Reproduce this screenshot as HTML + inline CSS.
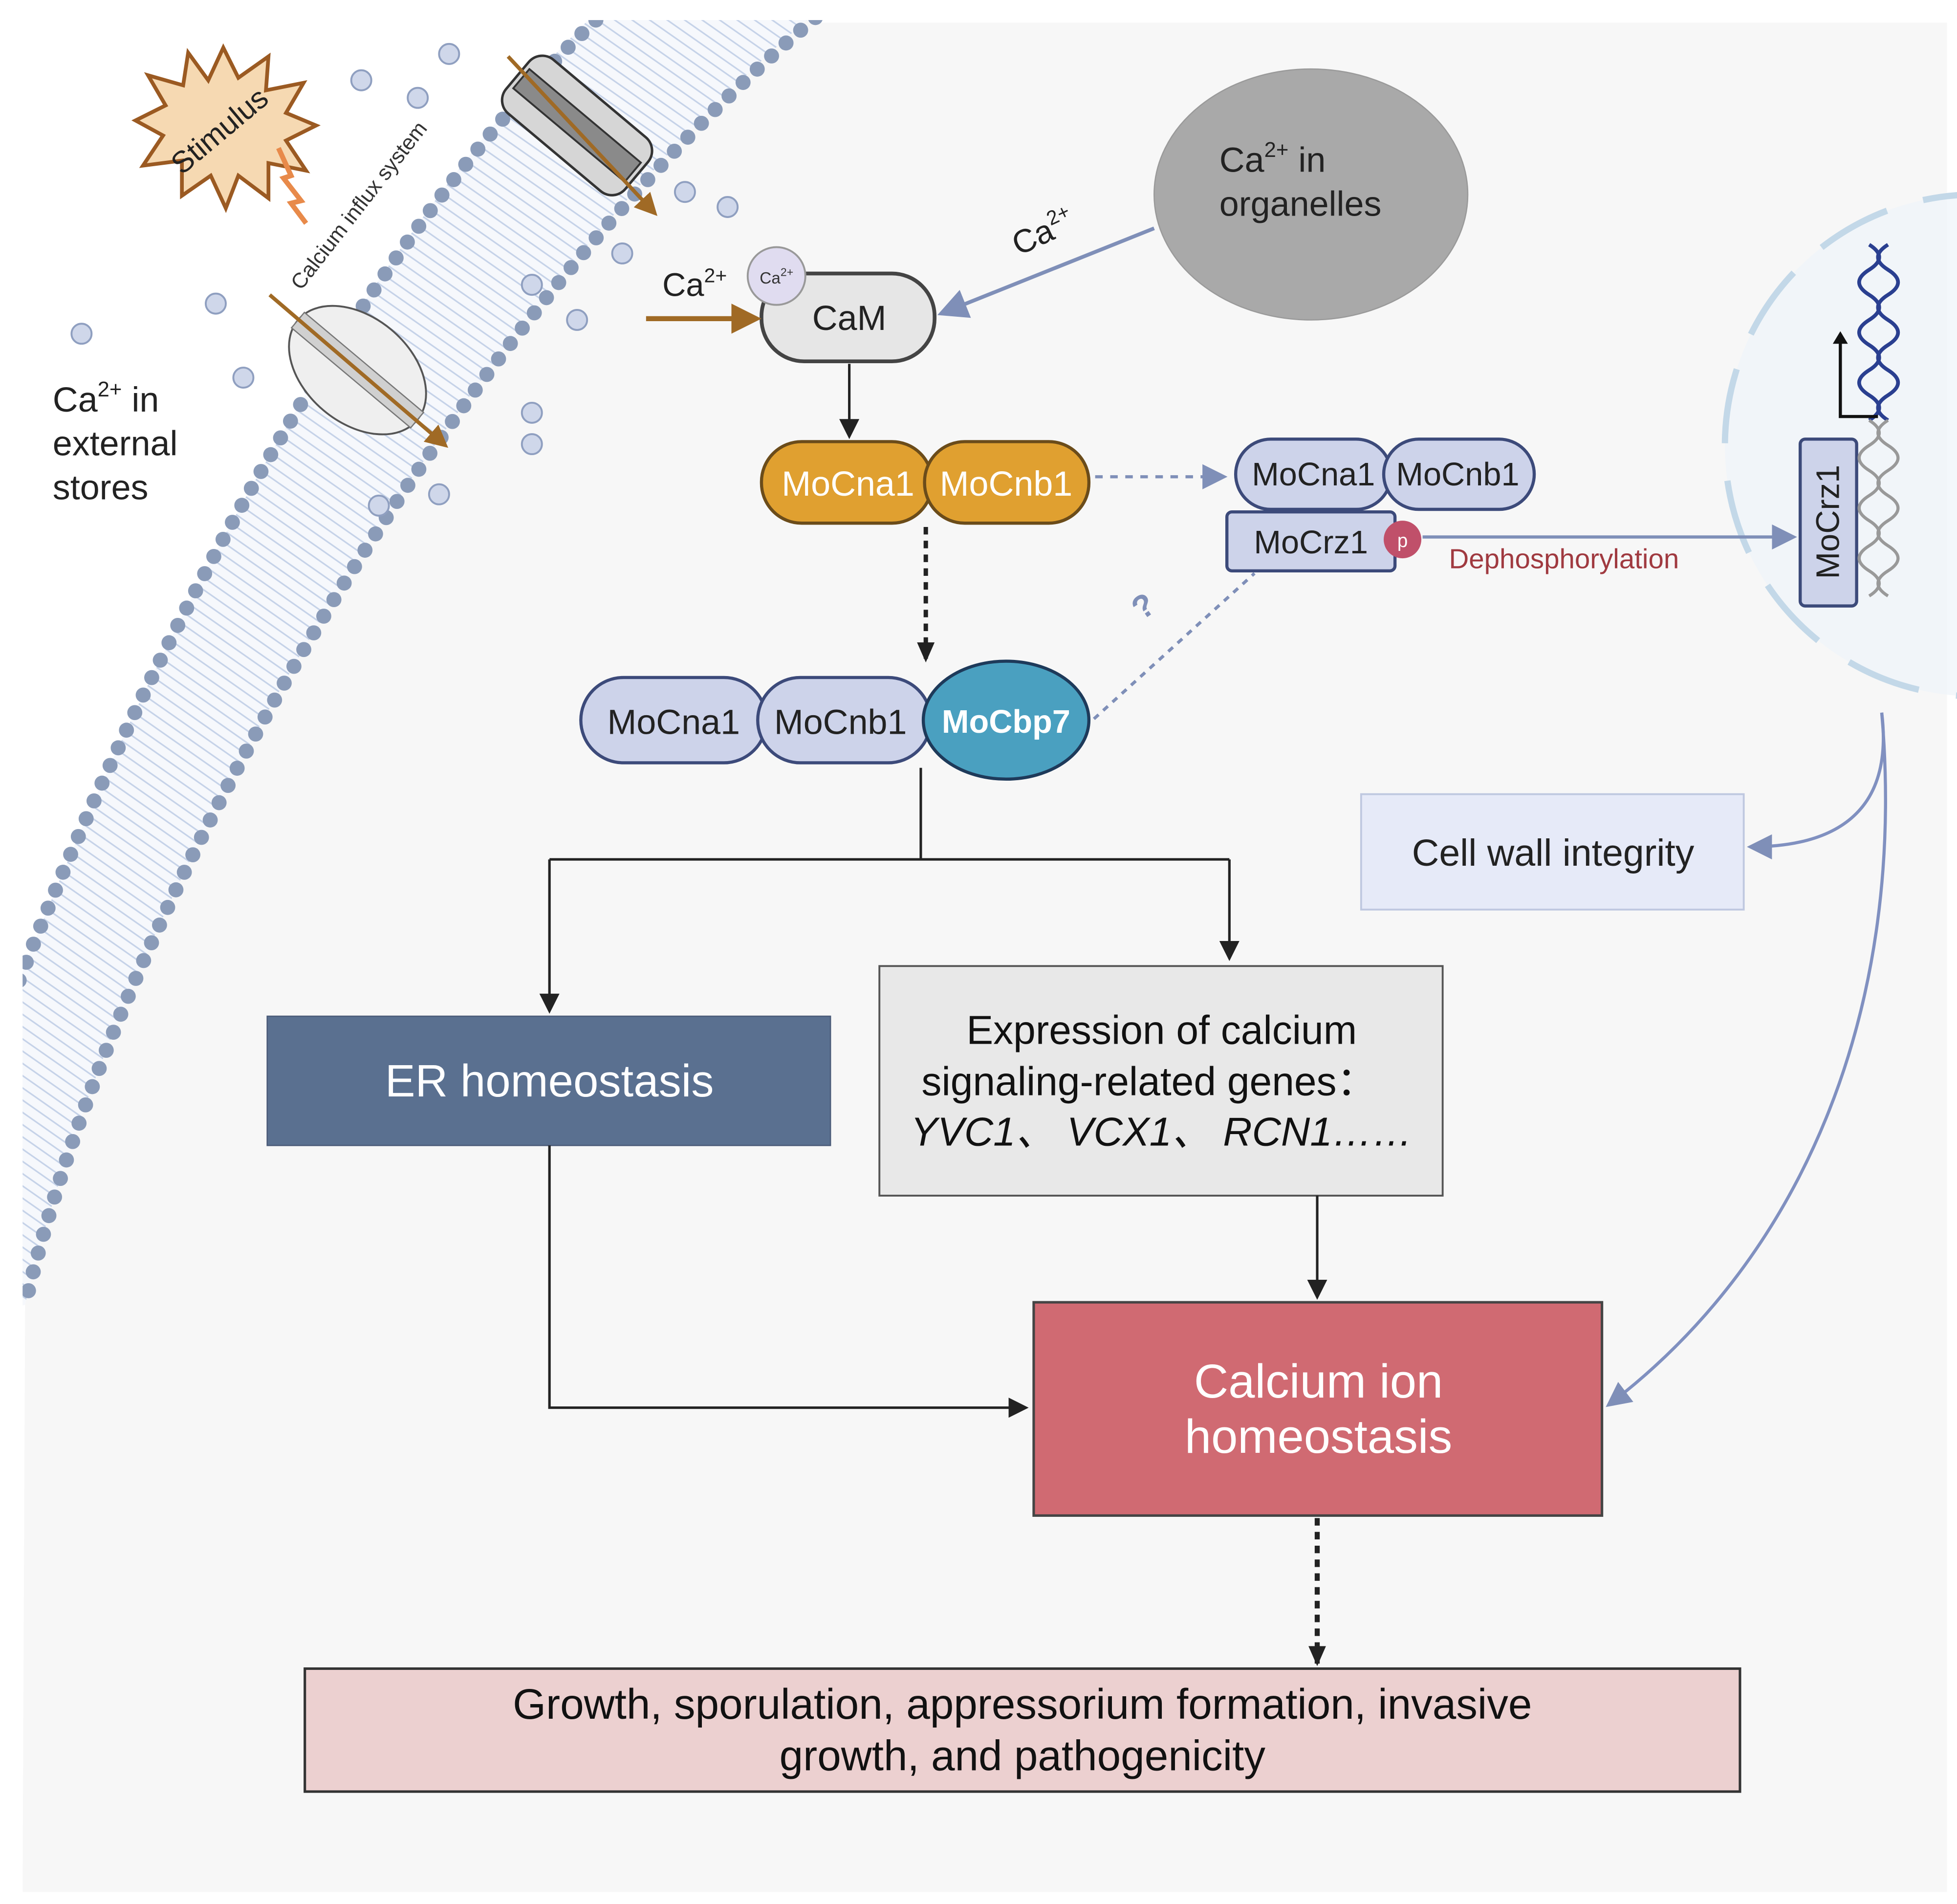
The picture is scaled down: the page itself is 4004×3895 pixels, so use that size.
<!DOCTYPE html>
<html><head><meta charset="utf-8"><style>
html,body{margin:0;padding:0;background:#fff}
svg{display:block}
text{font-family:"Liberation Sans","Noto Sans CJK SC",sans-serif}
</style></head><body>
<svg width="4004" height="3895" viewBox="0 0 1560 1517.6" preserveAspectRatio="none" xmlns="http://www.w3.org/2000/svg">
<defs>
<marker id="ak" markerWidth="8" markerHeight="8" refX="7" refY="4" orient="auto" markerUnits="strokeWidth"><path d="M0,0 L8,4 L0,8 z" fill="#222"/></marker>
<marker id="akd" markerWidth="16" markerHeight="14" refX="15" refY="7" orient="auto" markerUnits="userSpaceOnUse"><path d="M0,0 L16,7 L0,14 z" fill="#222"/></marker>
<marker id="ab" markerWidth="8" markerHeight="8" refX="7" refY="4" orient="auto" markerUnits="strokeWidth"><path d="M0,0 L8,4 L0,8 z" fill="#7f8fb8"/></marker>
<marker id="ao" markerWidth="6" markerHeight="6" refX="5" refY="3" orient="auto" markerUnits="strokeWidth"><path d="M0,0 L6,3 L0,6 z" fill="#a06a25"/></marker>
<pattern id="lip" width="8" height="8" patternUnits="userSpaceOnUse" patternTransform="rotate(35)"><rect width="8" height="8" fill="#f6f8fc"/><line x1="0" y1="4" x2="8" y2="4" stroke="#c5d2e8" stroke-width="1.2"/></pattern>
</defs>
<rect width="1560" height="1517.6" fill="#fff"/>
<path d="M650 10 C370 250 100 700 20 1040 L18 1508 L1552 1508 L1552 18 L650 18 Z" fill="#f7f7f7"/>
<path d="M475 10 C280 200 60 600 -60 1000 L-60 1060 L20 1040 C100 700 370 250 650 10 Z" fill="url(#lip)"/>
<path d="M475 16 C280 200 60 600 -60 1000" fill="none" stroke="#8a9bb8" stroke-width="12" stroke-linecap="round" stroke-dasharray="0 15.5"/>
<path d="M650 14 C370 250 100 700 20 1040" fill="none" stroke="#8a9bb8" stroke-width="12" stroke-linecap="round" stroke-dasharray="0 15.5"/>
<rect x="0" y="0" width="18" height="1517.6" fill="#fff"/>
<rect x="0" y="0" width="1560" height="16" fill="#fff"/>
<rect x="0" y="1508" width="1560" height="10" fill="#fff"/>
<rect x="1552" y="0" width="8" height="1517.6" fill="#fff"/>
<g transform="translate(460,100) rotate(40)">
<rect x="-62" y="-28" width="124" height="56" rx="14" fill="#d6d6d6" stroke="#333" stroke-width="2"/>
<rect x="-58" y="-10" width="116" height="20" fill="#8a8a8a" stroke="#333" stroke-width="1.5"/>
</g>
<g transform="translate(285,295) rotate(40)">
<ellipse cx="0" cy="0" rx="62" ry="42" fill="#efefef" stroke="#555" stroke-width="1.5"/>
<rect x="-62" y="-8" width="124" height="16" fill="#d0d0d0" stroke="#777"/>
</g>
<line x1="405" y1="45" x2="522" y2="170" stroke="#a06a25" stroke-width="3" marker-end="url(#ao)"/>
<line x1="215" y1="235" x2="355" y2="355" stroke="#a06a25" stroke-width="3" marker-end="url(#ao)"/>
<text x="0" y="0" font-size="17" fill="#333" transform="translate(240,232) rotate(-52)">Calcium influx system</text>
<polygon points="178,38 190,62 214,45 212,72 242,66 228,90 252,100 228,112 244,136 214,130 214,158 190,140 180,166 168,140 145,156 145,128 114,132 130,108 108,96 132,84 118,60 146,68 150,42 166,64" fill="#f6d9b2" stroke="#9b5a22" stroke-width="3"/>
<text x="0" y="0" font-size="24" fill="#222" transform="translate(145,140) rotate(-40)">Stimulus</text>
<polyline points="222,118 232,140 226,142 240,160 232,162 244,178" fill="none" stroke="#e88a4a" stroke-width="4"/>
<g fill="#cfd7ea" stroke="#8f9fc0" stroke-width="1.5">
<circle cx="358" cy="43" r="8"/><circle cx="288" cy="64" r="8"/><circle cx="333" cy="78" r="8"/>
<circle cx="172" cy="242" r="8"/><circle cx="65" cy="266" r="8"/><circle cx="194" cy="301" r="8"/>
<circle cx="546" cy="153" r="8"/><circle cx="580" cy="165" r="8"/><circle cx="496" cy="202" r="8"/>
<circle cx="424" cy="227" r="8"/><circle cx="460" cy="255" r="8"/><circle cx="424" cy="329" r="8"/>
<circle cx="424" cy="354" r="8"/><circle cx="302" cy="403" r="8"/><circle cx="350" cy="394" r="8"/>
</g>
<text font-size="28" fill="#222"><tspan x="42" y="328">Ca<tspan font-size="17" dy="-12">2+</tspan><tspan dy="12"> in</tspan></tspan><tspan x="42" y="363">external</tspan><tspan x="42" y="398">stores</tspan></text>
<circle cx="1575" cy="355" r="200" fill="#eef3f9" fill-opacity="0.7" stroke="#c3d8e8" stroke-width="5" stroke-dasharray="60 30"/>
<ellipse cx="1045" cy="155" rx="125" ry="100" fill="#a9a9a9" stroke="#9a9a9a"/>
<text font-size="28" fill="#222"><tspan x="972" y="137">Ca<tspan font-size="17" dy="-12">2+</tspan><tspan dy="12"> in</tspan></tspan><tspan x="972" y="172">organelles</tspan></text>
<line x1="920" y1="182" x2="750" y2="250" stroke="#7f8fb8" stroke-width="3" marker-end="url(#ab)"/>
<text font-size="26" fill="#222" transform="translate(812,204) rotate(-25)">Ca<tspan font-size="16" dy="-11">2+</tspan></text>
<rect x="607" y="218" width="138" height="70" rx="34" fill="#e6e6e6" stroke="#444" stroke-width="3"/>
<text x="677" y="263" font-size="28" text-anchor="middle" fill="#222">CaM</text>
<circle cx="619" cy="220" r="23" fill="#e0dcf0" stroke="#999" stroke-width="1.5"/>
<text x="619" y="226" font-size="13" text-anchor="middle" fill="#333">Ca<tspan font-size="9" dy="-6">2+</tspan></text>
<text x="528" y="236" font-size="26" fill="#222">Ca<tspan font-size="16" dy="-11">2+</tspan></text>
<line x1="515" y1="254" x2="603" y2="254" stroke="#a06a25" stroke-width="4" marker-end="url(#ao)"/>
<line x1="677" y1="290" x2="677" y2="348" stroke="#222" stroke-width="2" marker-end="url(#ak)"/>
<rect x="607" y="352" width="136" height="65" rx="32" fill="#e0a030" stroke="#6b4c1a" stroke-width="2.5"/>
<rect x="737" y="352" width="131" height="65" rx="32" fill="#e0a030" stroke="#6b4c1a" stroke-width="2.5"/>
<text x="676" y="395" font-size="28" text-anchor="middle" fill="#fff">MoCna1</text>
<text x="802" y="395" font-size="28" text-anchor="middle" fill="#fff">MoCnb1</text>
<line x1="873" y1="380" x2="976" y2="380" stroke="#7f8fb8" stroke-width="2.5" stroke-dasharray="6 6" marker-end="url(#ab)"/>
<line x1="738" y1="420" x2="738" y2="527" stroke="#222" stroke-width="3.5" stroke-dasharray="6 5" marker-end="url(#akd)"/>
<rect x="985" y="350" width="124" height="56" rx="28" fill="#cdd3ea" stroke="#3c4a7a" stroke-width="2.5"/>
<rect x="1103" y="350" width="120" height="56" rx="28" fill="#cdd3ea" stroke="#3c4a7a" stroke-width="2.5"/>
<text x="1047" y="387" font-size="26" text-anchor="middle" fill="#222">MoCna1</text>
<text x="1162" y="387" font-size="26" text-anchor="middle" fill="#222">MoCnb1</text>
<rect x="978" y="408" width="134" height="47" rx="4" fill="#cdd3ea" stroke="#3c4a7a" stroke-width="2.5"/>
<text x="1045" y="441" font-size="26" text-anchor="middle" fill="#222">MoCrz1</text>
<circle cx="1118" cy="430" r="15" fill="#c0506a"/>
<text x="1118" y="436" font-size="15" text-anchor="middle" fill="#fff">p</text>
<line x1="1134" y1="428" x2="1430" y2="428" stroke="#7f8fb8" stroke-width="2.5" marker-end="url(#ab)"/>
<text x="1155" y="453" font-size="22" fill="#a03a40">Dephosphorylation</text>
<rect x="1435" y="350" width="45" height="133" rx="4" fill="#cdd3ea" stroke="#3c4a7a" stroke-width="2.5"/>
<text font-size="26" fill="#222" text-anchor="middle" transform="translate(1466,416) rotate(-90)">MoCrz1</text>
<path d="M1490 195 q16 10 0 20 q-16 10 0 20 q16 10 0 20 q-16 10 0 20 q16 10 0 20 q-16 10 0 20 q16 10 0 20" fill="none" stroke="#2a3f90" stroke-width="3"/>
<path d="M1505 195 q-16 10 0 20 q16 10 0 20 q-16 10 0 20 q16 10 0 20 q-16 10 0 20 q16 10 0 20 q-16 10 0 20" fill="none" stroke="#2a3f90" stroke-width="3"/>
<path d="M1490 335 q16 10 0 20 q-16 10 0 20 q16 10 0 20 q-16 10 0 20 q16 10 0 20 q-16 10 0 20 q16 10 0 20" fill="none" stroke="#999" stroke-width="2.5"/>
<path d="M1505 335 q-16 10 0 20 q16 10 0 20 q-16 10 0 20 q16 10 0 20 q-16 10 0 20 q16 10 0 20 q-16 10 0 20" fill="none" stroke="#999" stroke-width="2.5"/>
<polyline points="1497,332 1467,332 1467,266" fill="none" stroke="#111" stroke-width="2.5"/>
<path d="M1461,274 L1467,264 L1473,274 z" fill="#111"/>
<line x1="872" y1="573" x2="1000" y2="457" stroke="#7f8fb8" stroke-width="2.5" stroke-dasharray="5 5"/>
<text font-size="26" font-weight="bold" fill="#7f8fb8" transform="translate(910,495) rotate(-35)">?</text>
<rect x="463" y="540" width="148" height="68" rx="34" fill="#cdd3ea" stroke="#3c4a7a" stroke-width="2.5"/>
<rect x="604" y="540" width="138" height="68" rx="34" fill="#cdd3ea" stroke="#3c4a7a" stroke-width="2.5"/>
<text x="537" y="585" font-size="28" text-anchor="middle" fill="#222">MoCna1</text>
<text x="670" y="585" font-size="28" text-anchor="middle" fill="#222">MoCnb1</text>
<ellipse cx="802" cy="574" rx="66" ry="47" fill="#4aa0c0" stroke="#1e3a5a" stroke-width="2.5"/>
<text x="802" y="584" font-size="26" font-weight="bold" text-anchor="middle" fill="#fff">MoCbp7</text>
<polyline points="734,612 734,685" fill="none" stroke="#222" stroke-width="2"/>
<polyline points="438,685 980,685" fill="none" stroke="#222" stroke-width="2"/>
<line x1="438" y1="685" x2="438" y2="806" stroke="#222" stroke-width="2" marker-end="url(#ak)"/>
<line x1="980" y1="685" x2="980" y2="764" stroke="#222" stroke-width="2" marker-end="url(#ak)"/>
<rect x="213" y="810" width="449" height="103" fill="#5a7090" stroke="#4a5a78"/>
<text x="438" y="874" font-size="36" text-anchor="middle" fill="#fff">ER homeostasis</text>
<rect x="701" y="770" width="449" height="183" fill="#e8e8e8" stroke="#555" stroke-width="1.5"/>
<text x="926" y="832" font-size="32" text-anchor="middle" fill="#111">Expression of calcium</text>
<text x="916" y="873" font-size="32" text-anchor="middle" fill="#111">signaling-related genes：</text>
<text x="926" y="913" font-size="32" font-style="italic" text-anchor="middle" fill="#111">YVC1、 VCX1、 RCN1……</text>
<line x1="1050" y1="953" x2="1050" y2="1034" stroke="#222" stroke-width="2" marker-end="url(#ak)"/>
<rect x="824" y="1038" width="453" height="170" fill="#d06a72" stroke="#444" stroke-width="2"/>
<text x="1051" y="1114" font-size="38" text-anchor="middle" fill="#fff">Calcium ion</text>
<text x="1051" y="1158" font-size="38" text-anchor="middle" fill="#fff">homeostasis</text>
<polyline points="438,913 438,1122 818,1122" fill="none" stroke="#222" stroke-width="2" marker-end="url(#ak)"/>
<line x1="1050" y1="1210" x2="1050" y2="1327" stroke="#222" stroke-width="4" stroke-dasharray="6 5" marker-end="url(#akd)"/>
<rect x="243" y="1330" width="1144" height="98" fill="#ecd0d0" stroke="#333" stroke-width="2"/>
<text x="815" y="1370" font-size="34" text-anchor="middle" fill="#111">Growth, sporulation, appressorium formation, invasive</text>
<text x="815" y="1411" font-size="34" text-anchor="middle" fill="#111">growth, and pathogenicity</text>
<rect x="1085" y="633" width="305" height="92" fill="#e6eaf8" stroke="#bfc8e0" stroke-width="1.5"/>
<text x="1238" y="690" font-size="30" text-anchor="middle" fill="#222">Cell wall integrity</text>
<path d="M1500 568 C1510 650 1460 675 1395 675" fill="none" stroke="#8090c0" stroke-width="2.5" marker-end="url(#ab)"/>
<path d="M1500 568 C1520 800 1440 1000 1282 1120" fill="none" stroke="#8090c0" stroke-width="2.5" marker-end="url(#ab)"/>
</svg>
</body></html>
